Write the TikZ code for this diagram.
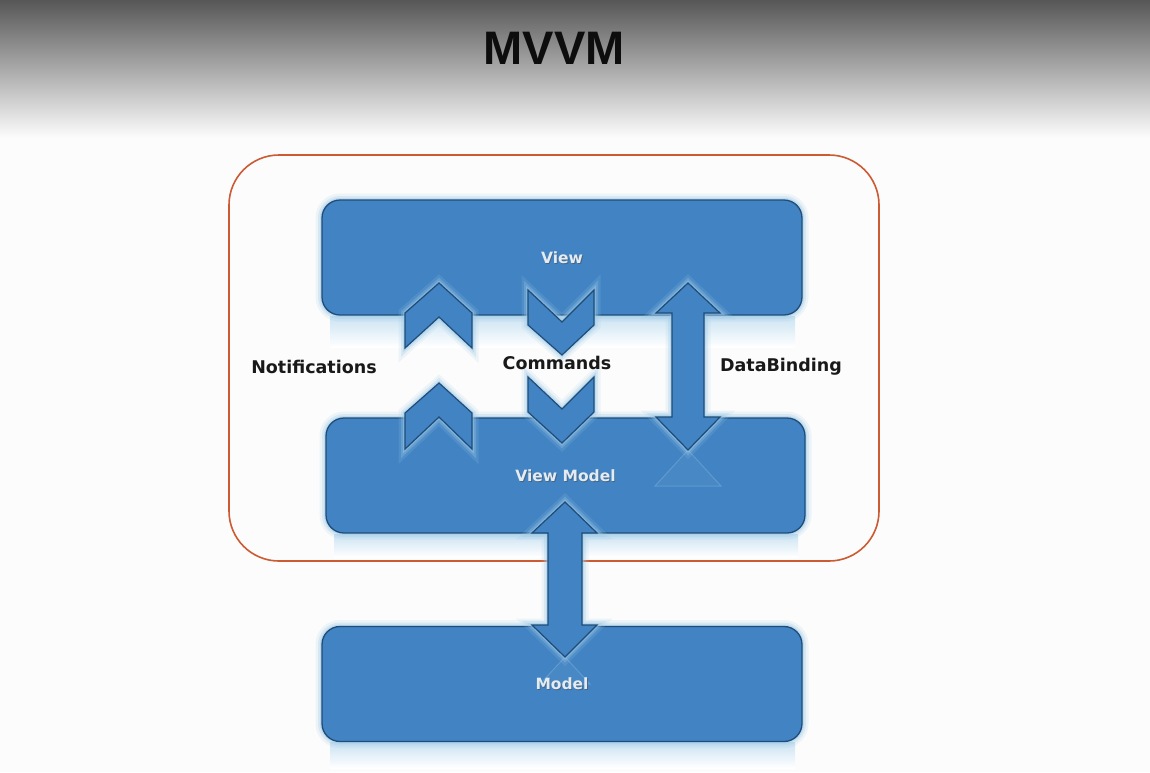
\documentclass[tikz,border=0pt]{standalone}
\usepackage{fontspec}
\newfontfamily\lblfont{DejaVu Sans}
\newfontfamily\ttlfont{Liberation Sans}
\definecolor{boxblue}{HTML}{4183C3}
\definecolor{edgeblue}{HTML}{1F4C78}
\definecolor{glowblue}{HTML}{9FCBE8}
\definecolor{frameorange}{HTML}{CC5A32}
\definecolor{boxtext}{HTML}{E4ECF3}
\definecolor{boxshadow}{HTML}{4A5E72}
\tikzset{
  glow/.style={
    preaction={draw=glowblue, line width=13pt, opacity=0.16},
    preaction={draw=glowblue, line width=8pt, opacity=0.28},
    preaction={draw=glowblue, line width=4pt, opacity=0.45}},
  layerbox/.style={glow, draw=edgeblue, line width=1.3pt, fill=boxblue,
    rounded corners=18pt, minimum width=480pt, minimum height=115pt, inner sep=0pt},
  flowshape/.style={glow, draw=edgeblue, line width=1.2pt, fill=boxblue, line join=miter},
  reflect/.style={top color=glowblue!55, bottom color=white},
  boxlabel/.style={font=\lblfont\bfseries\fontsize{15.5}{18}\selectfont, text=boxtext, inner sep=0pt},
  boxlabelshadow/.style={font=\lblfont\bfseries\fontsize{15.5}{18}\selectfont, text=boxshadow, inner sep=0pt, opacity=0.8},
  sidelabel/.style={font=\lblfont\bfseries\fontsize{17.5}{20}\selectfont, text=black!90, inner sep=0pt, anchor=base},
  ghost/.style={draw=glowblue, line width=1pt, fill=glowblue, fill opacity=0.08, draw opacity=0.3}
}
\begin{document}
\begin{tikzpicture}[x=1pt,y=-1pt]
\useasboundingbox (0,0) rectangle (1150,772);
% background and header
\fill[white!99!black] (0,0) rectangle (1150,772);
\shade[top color=black!66, bottom color=white!99!black] (0,0) rectangle (1150,138);
\node[font=\ttlfont\bfseries\fontsize{47}{50}\selectfont, text=black!95, anchor=base, inner sep=0pt] (title) at (554,64) {MVVM};

% reflections below the layers
\shade[reflect] (330,316) rectangle (795,347);
\shade[reflect] (334,534) rectangle (798,557);
\shade[reflect] (330,742) rectangle (795,768);

% frame
\draw[frameorange, line width=1.6pt, rounded corners=50pt] (229,155) rectangle (879,561);

% layers
\node[layerbox] (view) at (562,257.5) {};
\node[layerbox, minimum width=479pt] (vm) at (565.5,475.5) {};
\node[layerbox] (model) at (562,684) {};

% faint reflections of arrow heads
\draw[ghost] (688,450) -- (721,486) -- (655,486) -- cycle;
\draw[ghost] (565,657) -- (590,684) -- (540,684) -- cycle;

% notifications chevrons (up)
\draw[flowshape] (405,313) -- (439,283) -- (472,313) -- (472,348) -- (439,317) -- (405,348) -- cycle;
\draw[flowshape] (405,413) -- (439,383) -- (472,413) -- (472,449) -- (439,417) -- (405,449) -- cycle;

% commands chevrons (down)
\draw[flowshape] (528,290) -- (562,322) -- (594,290) -- (594,325) -- (562,355) -- (528,325) -- cycle;
\draw[flowshape] (528,377) -- (562,409) -- (594,377) -- (594,412) -- (562,443) -- (528,412) -- cycle;

% databinding double arrow
\draw[flowshape] (688,283) -- (720,313) -- (704,313) -- (704,417) -- (720,417) -- (688,450)
  -- (656,417) -- (672,417) -- (672,313) -- (656,313) -- cycle;

% view model <-> model double arrow
\draw[flowshape] (565,502) -- (597,533) -- (582,533) -- (582,625) -- (597,625) -- (565,657)
  -- (532,625) -- (548,625) -- (548,533) -- (532,533) -- cycle;

% layer labels
\node[boxlabelshadow] at ([xshift=0.9pt,yshift=-0.9pt]view.center) {View};
\node[boxlabel] (viewtext) at (view.center) {View};
\node[boxlabelshadow] at ([xshift=0.9pt,yshift=-0.9pt]vm.center) {View Model};
\node[boxlabel] (vmtext) at (vm.center) {View Model};
\node[boxlabelshadow] at ([xshift=0.9pt,yshift=-0.9pt]model.center) {Model};
\node[boxlabel] (modeltext) at (model.center) {Model};

% side labels
\node[sidelabel] (notif) at (314,373) {Notifications};
\node[sidelabel] (cmds) at (557,369) {Commands};
\node[sidelabel] (bind) at (781,371) {DataBinding};
\end{tikzpicture}
\end{document}
